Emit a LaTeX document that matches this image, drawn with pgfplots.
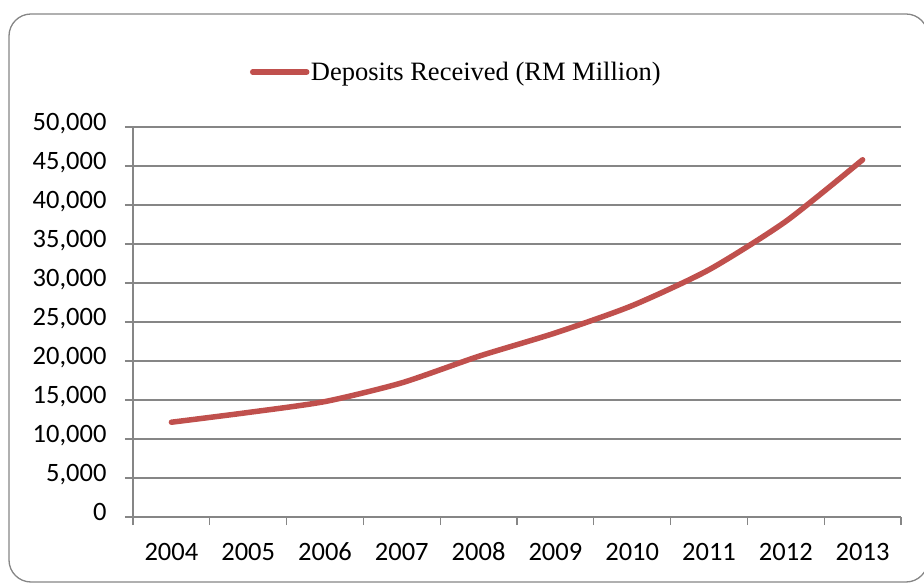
\documentclass[border=0pt]{standalone}
\usepackage{fontspec}
\setmainfont{Liberation Serif}
\newfontfamily\calibri{Carlito}
\usepackage{pgfplots}
\pgfplotsset{compat=1.18}
\definecolor{linered}{HTML}{C0504D}
\definecolor{gridgray}{HTML}{868686}
\begin{document}
\begin{tikzpicture}
\useasboundingbox (0pt,0pt) rectangle (924pt,584pt);
\draw[gridgray, line width=1.3pt, rounded corners=22pt] (9pt,2pt) rectangle (928pt,570pt);
\begin{axis}[
  at={(133pt,67pt)}, anchor=south west,
  scale only axis, width=768pt, height=390pt,
  xmin=0, xmax=10, ymin=0, ymax=50000,
  axis x line*=bottom, axis y line*=left,
  axis line style={gridgray, line width=1.3pt, -},
  xtick={0,1,...,10},
  xticklabels={},
  extra x ticks={0.5,1.5,...,9.5},
  extra x tick labels={2004,2005,2006,2007,2008,2009,2010,2011,2012,2013},
  extra x tick style={tick style={draw=none}, grid=none},
  major tick length=8pt,
  tick align=outside,
  tick style={gridgray, line width=1.3pt},
  ytick={0,5000,...,50000},
  ymajorgrids,
  major grid style={gridgray, line width=1.3pt},
  scaled y ticks=false,
  /pgf/number format/.cd, 1000 sep={,}, assume math mode=true, /pgfplots/.cd,
  tick label style={font=\fontsize{26.5}{30}\selectfont\calibri, text=black},
  yticklabel style={xshift=-15pt, text height=0.63em, text depth=0pt},
  xticklabel style={anchor=north, text height=0.63em, text depth=0pt, yshift=-26pt},
  legend style={at={(axis description cs:0.1523,1.141)}, anchor=west,
    draw=none, fill=none, inner sep=0pt, outer sep=0pt,
    font=\fontsize{26.5}{30}\selectfont, nodes={inner sep=1.5pt}},
  legend image code/.code={\draw[#1, line cap=round] (0pt,0pt) -- (54pt,0pt);},
]
\addplot[linered, line width=5.5pt, line cap=round, smooth, tension=0.4] coordinates {
  (0.5,12150) (1.5,13400) (2.5,14800) (3.5,17200) (4.5,20600)
  (5.5,23600) (6.5,27100) (7.5,31700) (8.5,37900) (9.5,45800)
};
\addlegendentry{Deposits Received (RM Million)}
\end{axis}
\end{tikzpicture}
\end{document}
